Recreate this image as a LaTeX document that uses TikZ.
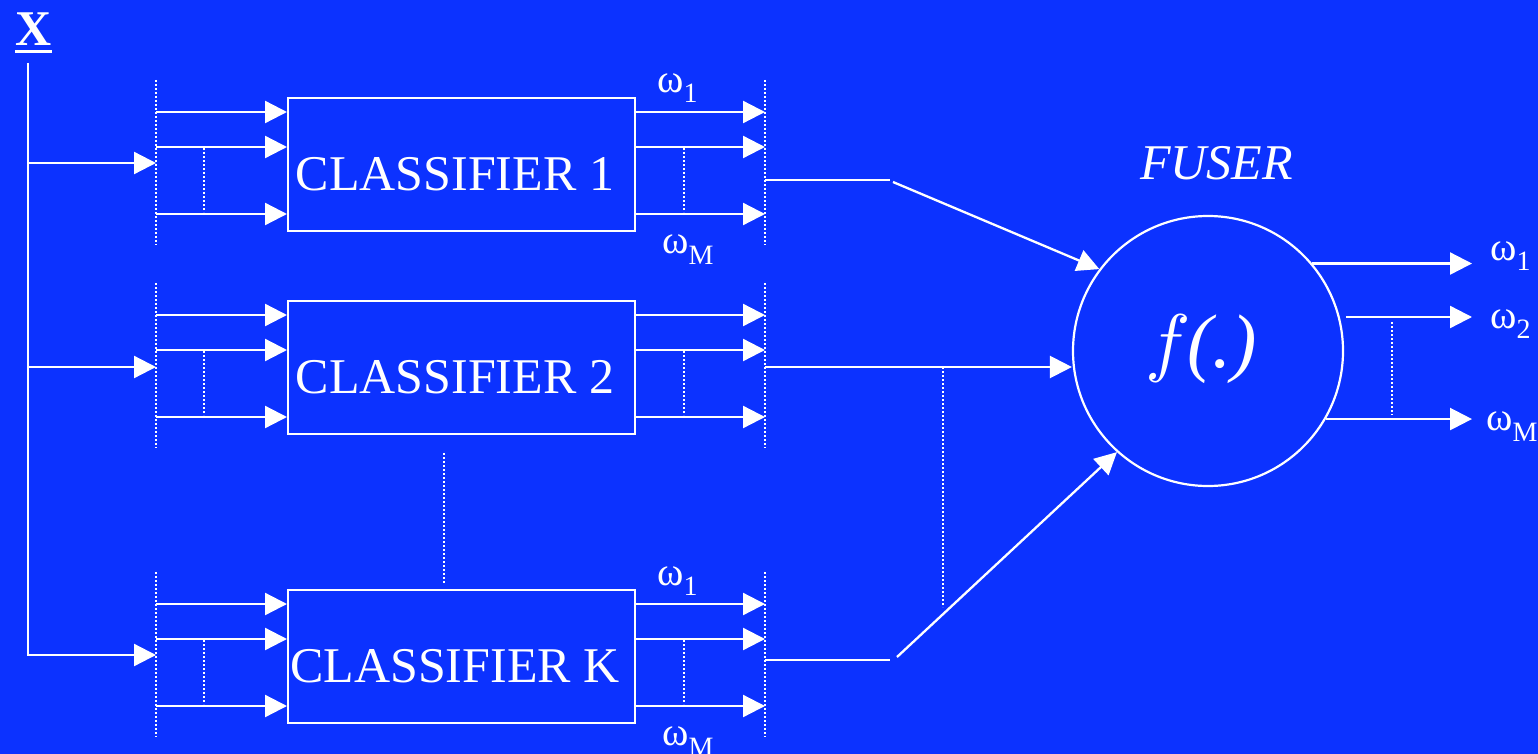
\documentclass[tikz,border=0pt]{standalone}
\usepackage{graphicx}
\usepackage{fontspec}
\setmainfont{Liberation Serif}
\usetikzlibrary{arrows.meta}
\definecolor{bg}{RGB}{12,50,255}
\newcommand\omlab[2][10pt]{{\fontsize{40}{40}\selectfont ω}\raisebox{-#1}{\fontsize{28}{28}\selectfont #2}}
\begin{document}
\begin{tikzpicture}[x=1pt,y=-1pt,
  wire/.style={white,line width=2.3pt},
  arr/.style={wire,-{Triangle[length=22pt,width=22pt]}},
  dots/.style={white,line width=2.2pt,dash pattern=on 2pt off 2pt},
  box/.style={draw=white,line width=2.3pt,minimum width=347pt,minimum height=133pt,inner sep=0pt},
  lbl/.style={text=white,inner sep=0pt},
  cls/.style={lbl,font=\fontsize{50}{50}\selectfont}
]
\useasboundingbox (0,0) rectangle (1538,754);
\fill[bg] (0,0) rectangle (1538,754);

% input X
\node[lbl,anchor=base,font=\fontsize{50}{50}\selectfont\bfseries] (X) at (33.5,46) {X};
\draw[wire] (15,51.5) -- (52,51.5);
\coordinate (top) at (28,63);
\coordinate (b1) at (28,163);
\coordinate (b2) at (28,367);
\coordinate (i1) at (156,163);
\coordinate (i2) at (156,367);
\coordinate (iK) at (156,655);
\draw[wire] (top) -- (b1);
\draw[arr] (b1) -- (i1);
\draw[arr] (b2) -- (i2);
\draw[arr] (top) |- (iK);

% classifiers
\foreach \n/\t in {1/97,2/300,K/589}{
  \node[box,anchor=north west] (c\n) at (287,\t) {};
  \node[cls,anchor=base] (t\n) at (455,\t+93) {CLASSIFIER \n};
  \draw[dots] (156,\t-17) -- (156,\t+148);
  \draw[dots] (765,\t-17) -- (765,\t+148);
  \foreach \d in {15,50,117}{
    \draw[arr] (156,\t+\d) -- ([yshift=-\d pt]c\n.north west);
    \draw[arr] ([yshift=-\d pt]c\n.north east) -- (765,\t+\d);
  }
  \draw[dots] (204,\t+51) -- (204,\t+115);
  \draw[dots] (684,\t+51) -- (684,\t+115);
}
\draw[dots] (444,453) -- (444,583);

% omega labels at classifier outputs
\node[lbl,anchor=base west] (w11) at (657,93) {\omlab{1}};
\node[lbl,anchor=base west] (w1M) at (662,253) {\omlab[11pt]{M}};
\node[lbl,anchor=base west] (wK1) at (657,585) {\omlab{1}};
\node[lbl,anchor=base west] (wKM) at (662,745) {\omlab[11pt]{M}};

% fuser
\node[draw=white,line width=2.2pt,circle,minimum size=270pt,inner sep=0pt] (f) at (1208,351) {};
\node[lbl,anchor=base] (fx) at (1201,367) {{\fontsize{10}{12}\selectfont\scalebox{7.6}{$f$}}\kern-3pt{\fontsize{76}{76}\selectfont\itshape(.)}};
\node[lbl,anchor=base west,font=\fontsize{50}{50}\selectfont\itshape] (fuser) at (1140,180) {FUSER};

\coordinate (o1) at (765,180);
\coordinate (m1) at (890,180);
\coordinate (s1) at (893,182);
\coordinate (o2) at (765,367);
\coordinate (oK) at (765,660);
\coordinate (mK) at (890,660);
\coordinate (sK) at (897,657);
\draw[wire] (o1) -- (m1);
\draw[arr] (s1) -- (f.143);
\draw[arr] (o2) -- (o2 -| f.west);
\draw[wire] (oK) -- (mK);
\draw[arr] (sK) -- (f.228);
\draw[dots] (943,367) -- (943,607);

% fuser outputs
\coordinate (e) at (1472,0);
\coordinate (s2) at (1346,317);
\draw[arr] (f.40) -- (f.40 -| e);
\draw[arr] (s2) -- (s2 -| e);
\draw[arr] (f.-30) -- (f.-30 -| e);
\draw[dots] (1392,322) -- (1392,415);
\node[lbl,anchor=base west] (y1) at (1490,260) {\omlab{1}};
\node[lbl,anchor=base west] (y2) at (1490,328) {\omlab{2}};
\node[lbl,anchor=base west] (yM) at (1486,430) {\omlab[11pt]{M}};
\end{tikzpicture}
\end{document}
